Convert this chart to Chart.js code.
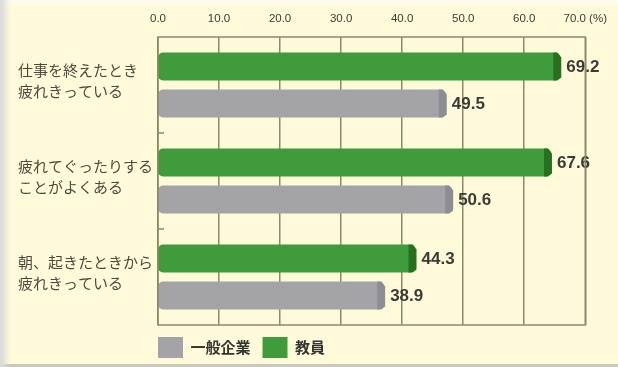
<!DOCTYPE html>
<html>

<head>
  <title>疲労感の比較</title>
  <style>
    html, body {
      margin: 0;
      padding: 0;
      background-color: #ffffff;
    }

    .chartBox {
      position: relative;
      width: 618px;
      height: 367px;
      background-color: #fffbda;
      box-shadow: inset 10px 0 6px -4px #dcdcdc, inset 0 -4px 0 -1px #c9c7bb, inset 0 5px 4px -3px #ffffff;
    }
  </style>
</head>

<body>
  <div class="chartBox">
    <canvas id="grafico"></canvas>
  </div>

  <script src="https://cdn.jsdelivr.net/npm/chart.js"></script>
  <script>
    // categorias (duas linhas cada)
    var categorias = [
      ["仕事を終えたとき", "疲れきっている"],
      ["疲れてぐったりする", "ことがよくある"],
      ["朝、起きたときから", "疲れきっている"]
    ];
    var valoresProfessores = [69.2, 67.6, 44.3];
    var valoresEmpresas = [49.5, 50.6, 38.9];
    var ticksEixo = [0, 10, 20, 30, 40, 50, 60, 70];

    var corVerde = "#3f9b3b";
    var corVerdeEscuro = "#26701f";
    var corCinza = "#a3a3a8";
    var corCinzaEscuro = "#8d8d93";
    var corGrade = "#8f8869";

    var fonteJP = "'Noto Sans CJK JP', 'Noto Sans', sans-serif";

    // moldura da area do grafico + marquinhas do eixo y
    var pluginMoldura = {
      id: "moldura",
      afterLayout: function (chart) {
        // legenda encostada no eixo, como no original
        if (chart.legend) {
          chart.legend.left -= 12;
          chart.legend.right -= 12;
        }
      },
      afterDraw: function (chart) {
        var ctx = chart.ctx;
        var area = chart.chartArea;
        ctx.save();
        ctx.strokeStyle = corGrade;
        ctx.lineWidth = 1.5;
        ctx.strokeRect(area.left, area.top, area.right - area.left, area.bottom - area.top);
        var y = chart.scales.y;
        for (var i = 0; i < categorias.length - 1; i++) {
          var py = y.getPixelForValue(i + 0.5);
          ctx.beginPath();
          ctx.moveTo(area.left, py);
          ctx.lineTo(area.left + 6, py);
          ctx.stroke();
        }
        ctx.restore();
      }
    };

    // pontas escuras das barras e valores
    var pluginValores = {
      id: "valores",
      afterDatasetsDraw: function (chart) {
        var ctx = chart.ctx;
        ctx.save();
        chart.data.datasets.forEach(function (ds, d) {
          var meta = chart.getDatasetMeta(d);
          meta.data.forEach(function (bar, i) {
            var h = bar.height;
            var top = bar.y - h / 2;
            ctx.fillStyle = d == 0 ? corVerdeEscuro : corCinzaEscuro;
            ctx.beginPath();
            ctx.moveTo(bar.x - 7, top);
            ctx.lineTo(bar.x - 3, top);
            ctx.lineTo(bar.x + 1, top + 5);
            ctx.lineTo(bar.x + 1, top + h - 3);
            ctx.lineTo(bar.x - 3, top + h);
            ctx.lineTo(bar.x - 7, top + h);
            ctx.closePath();
            ctx.fill();

            ctx.fillStyle = "#3b3b36";
            ctx.font = "bold 17px 'Liberation Sans', Arial, sans-serif";
            ctx.textAlign = "left";
            ctx.textBaseline = "middle";
            ctx.fillText(ds.data[i].toFixed(1), bar.x + 6, bar.y + 1);
          });
        });
        ctx.restore();
      }
    };

    var dados = {
      labels: categorias,
      datasets: [{
        label: "教員",
        data: valoresProfessores,
        backgroundColor: corVerde,
        xAxisID: "xb"
      }, {
        label: "一般企業",
        data: valoresEmpresas,
        backgroundColor: corCinza,
        xAxisID: "xb"
      }]
    };

    const config = {
      type: "bar",
      data: dados,
      plugins: [pluginMoldura, pluginValores],
      options: {
        indexAxis: "y",
        responsive: true,
        maintainAspectRatio: false,
        animation: false,
        categoryPercentage: 0.77,
        barPercentage: 0.76,
        borderRadius: 5,
        borderSkipped: false,
        layout: {
          padding: { left: 18, right: 28, top: 5, bottom: 0 }
        },
        scales: {
          x: {
            position: "top",
            min: 0,
            max: 70,
            afterBuildTicks: function (axis) {
              axis.ticks = ticksEixo.map(function (v) { return { value: v }; });
            },
            afterFit: function (axis) {
              axis.height = 32;
            },
            ticks: {
              padding: 11,
              color: "#3a3a33",
              font: { family: "'Liberation Sans Narrow', 'Liberation Sans', sans-serif", size: 11.5 },
              callback: function (v) {
                return v == 70 ? v.toFixed(1) + " (%)" : v.toFixed(1);
              }
            },
            grid: {
              color: corGrade,
              lineWidth: 1.5,
              drawTicks: false
            },
            border: { display: false }
          },
          xb: {
            type: "linear",
            display: false,
            position: "top",
            min: 0,
            max: 73.5
          },
          y: {
            afterFit: function (axis) {
              axis.width = 140;
            },
            ticks: {
              crossAlign: "far",
              padding: 0,
              color: "#4a4a40",
              labelOffset: -4,
              font: { family: fonteJP, size: 15, lineHeight: 1.4 }
            },
            grid: { display: false },
            border: { display: false }
          }
        },
        plugins: {
          legend: {
            position: "bottom",
            align: "start",
            fullSize: false,
            reverse: true,
            maxHeight: 42,
            labels: {
              boxWidth: 25,
              boxHeight: 21,
              padding: 12,
              color: "#333330",
              font: { family: fonteJP, size: 15, weight: "bold" }
            }
          },
          tooltip: { enabled: false }
        }
      }
    };

    let grafico = new Chart(
      document.getElementById("grafico"),
      config
    );
  </script>
</body>

</html>
